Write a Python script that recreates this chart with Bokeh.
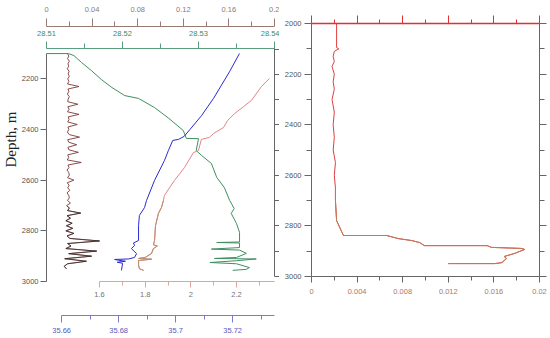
from bokeh.plotting import figure
from bokeh.models import Range1d, LinearAxis, FixedTicker, CustomJSTickFormatter, Title
from bokeh.layouts import row
from bokeh.embed import file_html
from bokeh.resources import INLINE

# ---------------- data (left panel) ----------------
noise_depth = [2100, 2110, 2120, 2130, 2140, 2150, 2160, 2170, 2180, 2190,
               2200, 2210, 2220, 2230, 2240, 2250, 2260, 2270, 2280, 2290,
               2300, 2310, 2320, 2330, 2340, 2350, 2360, 2370, 2380, 2390,
               2400, 2410, 2420, 2430, 2440, 2450, 2460, 2470, 2480, 2490,
               2500, 2510, 2520, 2530, 2540, 2550, 2560, 2570, 2580, 2590,
               2600, 2610, 2620, 2630, 2640, 2650, 2660, 2670, 2680, 2690,
               2700, 2710, 2720, 2730, 2740, 2750, 2760, 2770, 2780, 2790,
               2800, 2810, 2820, 2830, 2840, 2850, 2860, 2870, 2880, 2890,
               2900, 2910, 2920, 2930, 2940, 2950]
noise_val = [0.0185, 0.0195, 0.0185, 0.0200, 0.0188, 0.0195, 0.0182, 0.0198, 0.0190, 0.0200,
             0.0186, 0.0196, 0.0184, 0.0285, 0.0188, 0.0196, 0.0183, 0.0200, 0.0190, 0.0186,
             0.0275, 0.0187, 0.0198, 0.0184, 0.0285, 0.0190, 0.0198, 0.0186, 0.0270, 0.0188,
             0.0196, 0.0183, 0.0200, 0.0290, 0.0186, 0.0195, 0.0265, 0.0188, 0.0196, 0.0280,
             0.0186, 0.0195, 0.0182, 0.0305, 0.0188, 0.0198, 0.0180, 0.0195, 0.0200, 0.0185,
             0.0240, 0.0182, 0.0198, 0.0186, 0.0205, 0.0180, 0.0195, 0.0200, 0.0184, 0.0210,
             0.0178, 0.0200, 0.0185, 0.0300, 0.0180, 0.0210, 0.0170, 0.0225, 0.0175, 0.0230,
             0.0170, 0.0240, 0.0180, 0.0205, 0.0465, 0.0185, 0.0215, 0.0170, 0.0440, 0.0195,
             0.0395, 0.0160, 0.0350, 0.0185, 0.0155, 0.0175]

green_val = [28.5100, 28.5129, 28.5136, 28.5146, 28.5159, 28.5172, 28.5186, 28.5203, 28.5221, 28.5242,
             28.5261, 28.5280, 28.5284, 28.5300, 28.5297, 28.5304, 28.5317, 28.5324, 28.5334, 28.5341,
             28.5347, 28.5343, 28.5350, 28.5354, 28.5354, 28.5324, 28.5354, 28.5354, 28.5317, 28.5354,
             28.5363, 28.5350, 28.5321, 28.5376, 28.5350, 28.5315, 28.5350, 28.5367, 28.5363, 28.5345]
green_depth = [2100, 2100, 2108, 2135, 2167, 2202, 2234, 2266, 2277, 2313,
               2356, 2404, 2435, 2436, 2483, 2502, 2534, 2589, 2629, 2680,
               2712, 2731, 2771, 2806, 2844, 2846, 2848, 2866, 2872, 2876,
               2889, 2905, 2909, 2911, 2918, 2925, 2930, 2945, 2952, 2956]

blue_val = [35.7224, 35.7189, 35.7133, 35.7091, 35.7051, 35.7030, 35.7010, 35.6990, 35.6975, 35.6961,
            35.6926, 35.6898, 35.6891, 35.6873, 35.6870, 35.6870, 35.6852, 35.6856, 35.6845, 35.6863,
            35.6856, 35.6835, 35.6786, 35.6800, 35.6824, 35.6795, 35.6814, 35.6810]
blue_depth = [2100, 2172, 2277, 2345, 2399, 2427, 2439, 2443, 2482, 2522,
              2601, 2680, 2708, 2739, 2779, 2838, 2848, 2858, 2870, 2890,
              2905, 2911, 2913, 2916, 2920, 2924, 2928, 2956]

pink_val = [2.344, 2.309, 2.265, 2.230, 2.191, 2.160, 2.143, 2.100, 2.081, 2.046,
            2.033, 2.011, 1.972, 1.928, 1.884, 1.880, 1.871, 1.858, 1.845, 1.841,
            1.836, 1.853, 1.836, 1.828, 1.800, 1.771, 1.828, 1.771, 1.771, 1.775, 1.793]
pink_depth = [2198, 2230, 2285, 2310, 2337, 2365, 2392, 2415, 2431, 2439,
              2483, 2491, 2550, 2601, 2660, 2680, 2708, 2731, 2780, 2838,
              2855, 2860, 2870, 2889, 2905, 2909, 2912, 2917, 2936, 2950, 2956]

# ---------------- data (right panel) ----------------
red_val = [0.0022, 0.0022, 0.0024, 0.0020, 0.0019, 0.0020, 0.0018, 0.0020, 0.0019, 0.0020,
           0.0018, 0.0020, 0.0019, 0.0020, 0.0019, 0.0021, 0.0020, 0.0021, 0.0021, 0.0022,
           0.0028, 0.0066, 0.0076, 0.0088, 0.0095, 0.0099, 0.0154, 0.0158, 0.0184, 0.0187,
           0.0178, 0.0169, 0.0171, 0.0167, 0.0161, 0.0120]
red_depth = [2000, 2095, 2100, 2110, 2130, 2150, 2170, 2200, 2230, 2260,
             2300, 2350, 2400, 2450, 2500, 2550, 2600, 2650, 2700, 2779,
             2838, 2838, 2850, 2858, 2866, 2878, 2878, 2885, 2889, 2893,
             2909, 2921, 2929, 2945, 2949, 2949]

# tick values
top1_ticks = [0, 0.04, 0.08, 0.12, 0.16, 0.2]
top1_minor = [0.02, 0.06, 0.1, 0.14, 0.18]
top2_ticks = [28.51, 28.52, 28.53, 28.54]
top2_minor = [28.515, 28.525, 28.535]
bot1_ticks = [1.6, 1.8, 2, 2.2]
bot1_minor = [1.7, 1.9, 2.1, 2.3]
bot2_ticks = [35.66, 35.68, 35.7, 35.72]
bot2_minor = [35.67, 35.69, 35.71, 35.73]
depth_ticks_l = [2200, 2400, 2600, 2800, 3000]
depth_ticks_r = [2000, 2200, 2400, 2600, 2800, 3000]
depth_minor_r = [2100, 2300, 2500, 2700, 2900]
rx_ticks = [0, 0.004, 0.008, 0.012, 0.016, 0.02]
rx_minor = [0.002, 0.006, 0.01, 0.014, 0.018]

FONT = "Liberation Sans"
FS = "7.5px"


def fmt():
    return CustomJSTickFormatter(code="return tick.toString();")


def blank():
    return CustomJSTickFormatter(code="return '';")


def style(ax, line_color, label_color, major_out, minor_out, standoff=2, hide=False):
    ax.axis_line_color = line_color
    ax.major_tick_line_color = line_color
    ax.minor_tick_line_color = line_color
    ax.major_tick_in = 0
    ax.minor_tick_in = 0
    ax.major_tick_out = major_out
    ax.minor_tick_out = minor_out
    ax.major_label_text_color = label_color
    ax.major_label_text_font_size = FS
    ax.major_label_text_font = FONT
    ax.major_label_standoff = standoff
    ax.formatter = blank() if hide else fmt()


def spacer(ax, px):
    ax.axis_label = " "
    ax.axis_label_text_font_size = "1px"
    ax.axis_label_standoff = px


# ---------------- left figure ----------------
p = figure(frame_width=228, frame_height=233,
           x_range=Range1d(0, 0.2), y_range=Range1d(3000, 2080),
           x_axis_location=None, y_axis_location=None,
           output_backend="svg", toolbar_location=None,
           min_border_left=0, min_border_right=0, min_border_top=48, min_border_bottom=0)
p.frame_align = False
p.grid.visible = False
p.outline_line_color = None
p.extra_x_ranges = {"t": Range1d(28.51, 28.54),
                    "th": Range1d(1.368, 2.366),
                    "s": Range1d(35.6547, 35.7347)}
p.extra_y_ranges = {"r": Range1d(3020, 2097)}

# above (first = nearest frame)
ax_g = LinearAxis(x_range_name="t", ticker=FixedTicker(ticks=top2_ticks, minor_ticks=top2_minor))
style(ax_g, "#5a9e80", "#3d8a68", 7, 5, standoff=6)
spacer(ax_g, -3)
p.add_layout(ax_g, "above")
ax_c = LinearAxis(ticker=FixedTicker(ticks=top1_ticks, minor_ticks=top1_minor))
style(ax_c, "#9a7a74", "#8a7c78", 8, 5, standoff=7)
p.add_layout(ax_c, "above")

# below
ax_th = LinearAxis(x_range_name="th", bounds=(1.6, 2.366),
                   ticker=FixedTicker(ticks=bot1_ticks, minor_ticks=bot1_minor))
style(ax_th, "#d8a8a0", "#7a7070", 6, 4, standoff=4)
spacer(ax_th, 12)
p.add_layout(ax_th, "below")
ax_s = LinearAxis(x_range_name="s", bounds=(35.66, 35.7347),
                  ticker=FixedTicker(ticks=bot2_ticks, minor_ticks=bot2_minor))
style(ax_s, "#7a7ad0", "#5a5ac0", 7, 4, standoff=5)
p.add_layout(ax_s, "below")

# left depth axis
ax_d = LinearAxis(bounds=(2100, 3000), ticker=FixedTicker(ticks=depth_ticks_l, minor_ticks=[]))
style(ax_d, "#666666", "#555555", 6, 0, standoff=2)
p.add_layout(ax_d, "left")
p.add_layout(Title(text="Depth, m", align="left", offset=114,
                   text_font="Liberation Serif", text_font_size="15px",
                   text_font_style="normal", text_color="#222222", standoff=0), "left")

# right axis (ticks only)
ax_r = LinearAxis(y_range_name="r", bounds=(2097, 3000),
                  ticker=FixedTicker(ticks=depth_ticks_l, minor_ticks=depth_minor_r))
style(ax_r, "#666666", "#555555", 5, 5, standoff=0, hide=True)
p.add_layout(ax_r, "right")

# data
p.line(noise_val, noise_depth, line_color="#7a3a3a", line_width=0.9)
p.line(noise_val[60:], noise_depth[60:], line_color="#2a2a2a", line_width=0.8, line_alpha=0.8)
p.line(green_val, green_depth, x_range_name="t", line_color="#3f8f60", line_width=1.0)
p.line(blue_val, blue_depth, x_range_name="s", line_color="#2a2ad0", line_width=1.0)
p.line(pink_val, pink_depth, x_range_name="th", line_color="#e08585", line_width=1.0)
p.line(pink_val[15:], pink_depth[15:], x_range_name="th", line_color="#b89070", line_width=1.0)

# ---------------- right figure ----------------
q = figure(frame_width=228, frame_height=253,
           x_range=Range1d(0, 0.02), y_range=Range1d(3000, 2000),
           x_axis_location=None, y_axis_location=None,
           output_backend="svg", toolbar_location=None,
           min_border_left=32, min_border_right=8, min_border_top=23, min_border_bottom=0)
q.frame_align = False
q.grid.visible = False
q.outline_line_color = None

qa_l = LinearAxis(ticker=FixedTicker(ticks=depth_ticks_r, minor_ticks=depth_minor_r))
style(qa_l, "#666666", "#555555", 7, 5, standoff=3)
q.add_layout(qa_l, "left")
qa_r = LinearAxis(ticker=FixedTicker(ticks=depth_ticks_r, minor_ticks=depth_minor_r))
style(qa_r, "#666666", "#555555", 7, 5, standoff=0, hide=True)
q.add_layout(qa_r, "right")
qa_b = LinearAxis(ticker=FixedTicker(ticks=rx_ticks, minor_ticks=rx_minor))
style(qa_b, "#666666", "#b07565", 6, 4, standoff=6)
q.add_layout(qa_b, "below")
qa_t = LinearAxis(ticker=FixedTicker(ticks=rx_ticks, minor_ticks=rx_minor))
style(qa_t, "#e03030", "#e03030", 8, 4, standoff=0, hide=True)
qa_t.axis_line_width = 1.6
q.add_layout(qa_t, "above")

q.line(red_val, red_depth, line_color="#e04040", line_width=1.0)
q.line(red_val[17:], red_depth[17:], line_color="#c07a5a", line_width=1.0)

layout = row(p, q)
open("out.html", "w").write(file_html(layout, INLINE))
